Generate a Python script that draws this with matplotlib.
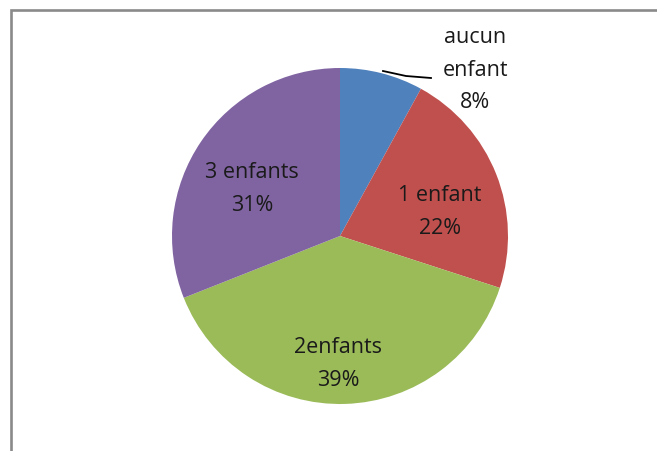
import matplotlib
matplotlib.use("Agg")
import matplotlib.pyplot as plt

# data
categories = ["aucun\nenfant", "1 enfant", "2enfants", "3 enfants"]
values = [8, 22, 39, 31]
colors = ["#4F81BD", "#C0504D", "#9BBB59", "#8064A2"]

W, H = 657, 452


def px(x, y):
    # pixel position (origin top-left) -> data coordinates
    return x, H - y


fig = plt.figure(figsize=(W / 100, H / 100), dpi=100)
ax = fig.add_axes([0, 0, 1, 1])

# pie, clockwise from the top
ax.pie(values, colors=colors, startangle=90, counterclock=False,
       center=px(340, 237), radius=168, frame=True,
       wedgeprops=dict(linewidth=0))
ax.set_xlim(0, W)
ax.set_ylim(0, H)
ax.set_aspect("equal")
ax.axis("off")

# labels (data labels like in Excel)
label_pos = [(475, 70), (440, 212), (338, 364), (252, 189)]
for cat, val, (lx, ly) in zip(categories, values, label_pos):
    ax.text(*px(lx, ly), f"{cat}\n{val}%", ha="center", va="center",
            fontsize=15.5, family="Open Sans", color="#1a1a1a",
            linespacing=1.72)

# leader line for the small slice
lx, ly = zip(px(383, 72), px(406, 77), px(431, 79))
ax.plot(lx, ly, color="black", lw=1.3)

# chart border (only left and top visible)
bx, by = zip(px(11, H + 5), px(11, 11), px(W + 5, 11))
ax.plot(bx, by, color="#8a8a8a", lw=1.9, solid_joinstyle="miter", clip_on=False)

fig.savefig("out.png", dpi=100)
